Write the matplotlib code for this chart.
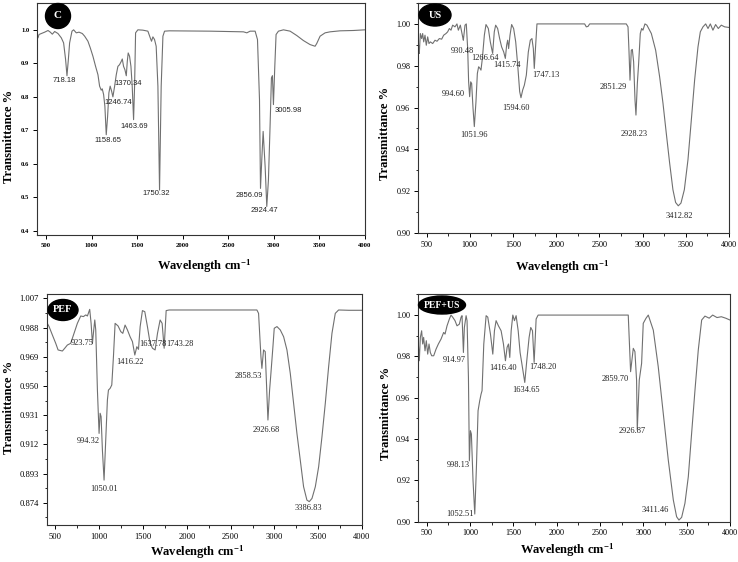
import matplotlib
matplotlib.use('Agg')
import matplotlib.pyplot as plt
from matplotlib.patches import Ellipse
from matplotlib.ticker import MultipleLocator

plt.rcParams['mathtext.fontset'] = 'custom'
plt.rcParams['mathtext.rm'] = 'Liberation Serif:bold'
plt.rcParams['mathtext.bf'] = 'Liberation Serif:bold'
plt.rcParams['mathtext.it'] = 'Liberation Serif:bold'
plt.rcParams['mathtext.default'] = 'bf'

# ---- panel C ----
wn_c = [400, 411, 422, 448, 484, 521, 546, 568, 594, 630, 667, 692, 714, 729, 744, 758, 784, 802,
        831, 861, 897, 923, 959, 985, 1014, 1043, 1069, 1087, 1105, 1116, 1131, 1145, 1160, 1175,
        1189, 1203, 1219, 1233, 1252, 1270, 1288, 1306, 1325, 1336, 1350, 1365, 1380, 1391, 1401,
        1416, 1431, 1445, 1460, 1471, 1482, 1507, 1562, 1617, 1643, 1657, 1672, 1690, 1708, 1727,
        1745, 1763, 1782, 1800, 1855, 2300, 2666, 2703, 2739, 2794, 2820, 2842, 2853, 2867, 2882,
        2904, 2922, 2940, 2958, 2973, 2984, 2995, 3010, 3024, 3050, 3105, 3178, 3251, 3324, 3397,
        3452, 3470, 3507, 3562, 3616, 3726, 3872, 4000]
t_c = [0.975, 0.976, 0.986, 0.989, 0.993, 0.998, 0.993, 0.987, 0.995, 0.989, 0.976, 0.961, 0.911,
       0.863, 0.911, 0.961, 0.996, 1.0, 0.991, 0.993, 0.989, 0.981, 0.966, 0.946, 0.921, 0.891,
       0.866, 0.832, 0.820, 0.824, 0.807, 0.772, 0.687, 0.742, 0.812, 0.832, 0.817, 0.800, 0.832,
       0.866, 0.891, 0.896, 0.906, 0.913, 0.891, 0.881, 0.863, 0.906, 0.931, 0.921, 0.891, 0.832,
       0.732, 0.832, 0.991, 1.0, 0.999, 0.996, 0.976, 0.966, 0.979, 0.971, 0.951, 0.832, 0.522,
       0.832, 0.981, 0.996, 0.997, 0.996, 0.994, 0.991, 0.996, 0.996, 0.971, 0.792, 0.527, 0.612,
       0.697, 0.592, 0.473, 0.552, 0.712, 0.856, 0.863, 0.777, 0.891, 0.986, 0.996, 1.0, 0.996,
       0.983, 0.968, 0.956, 0.951, 0.959, 0.981, 0.991, 0.994, 0.997, 0.998, 1.0]
lab_c = ['718.18', '1370.34', '1246.74', '1158.65', '1463.69', '1750.32', '2856.09', '2924.47', '3005.98']
lab_c_x = [701, 1405, 1295, 1178, 1471, 1709, 2735, 2900, 3157]
lab_c_y = [0.848, 0.840, 0.782, 0.669, 0.711, 0.512, 0.505, 0.460, 0.760]

# ---- panel US ----
wn_us = [400, 408, 415, 427, 442, 454, 466, 481, 496, 512, 527, 543, 570, 597, 620, 647, 674, 697,
         724, 743, 763, 782, 801, 828, 851, 867, 890, 917, 925, 944, 959, 975, 986, 998, 1010, 1021,
         1037, 1052, 1071, 1087, 1102, 1118, 1129, 1145, 1168, 1187, 1214, 1237, 1264, 1283, 1299,
         1322, 1345, 1368, 1392, 1411, 1426, 1438, 1449, 1465, 1484, 1507, 1531, 1554, 1577, 1592,
         1612, 1631, 1654, 1677, 1700, 1719, 1735, 1746, 1762, 1777, 1862, 2329, 2348, 2368, 2387,
         2811, 2831, 2842, 2854, 2869, 2881, 2896, 2912, 2923, 2939, 2954, 2973, 2989, 3004, 3027,
         3050, 3101, 3151, 3197, 3236, 3274, 3313, 3351, 3382, 3413, 3444, 3483, 3525, 3564, 3602,
         3641, 3668, 3699, 3730, 3757, 3784, 3814, 3845, 3876, 3911, 3949, 4000]
t_us = [0.9866, 0.9898, 0.9859, 0.9954, 0.993, 0.9954, 0.9914, 0.9946, 0.9898, 0.9938, 0.9906,
        0.9914, 0.9906, 0.9922, 0.9917, 0.993, 0.9927, 0.9946, 0.9954, 0.9962, 0.9978, 0.997,
        0.9994, 0.9986, 1.0, 0.997, 0.9994, 0.9938, 0.9922, 0.9994, 1.0, 0.9882, 0.9723, 0.9652,
        0.9723, 0.9715, 0.9596, 0.9509, 0.9628, 0.9763, 0.9795, 0.9787, 0.9779, 0.9835, 0.9946,
        0.9997, 0.9978, 0.9914, 0.9859, 0.9962, 0.9994, 0.9978, 0.993, 0.989, 0.9866, 0.9835,
        0.9898, 0.9922, 0.9882, 0.9946, 0.9997, 0.9978, 0.9914, 0.9803, 0.9676, 0.9647, 0.9684,
        0.9707, 0.9755, 0.9866, 0.9922, 0.993, 0.9882, 0.9787, 0.9898, 1.0, 1.0, 1.0, 0.9986,
        0.9988, 1.0, 1.0, 0.9986, 0.9874, 0.9731, 0.9874, 0.9878, 0.9819, 0.9636, 0.9564, 0.9715,
        0.9811, 0.9954, 0.9978, 0.997, 1.0, 0.9994, 0.9954, 0.9874, 0.9747, 0.962, 0.9477, 0.9334,
        0.9207, 0.9146, 0.913, 0.9143, 0.9207, 0.935, 0.9541, 0.9731, 0.989, 0.9962, 0.9986, 1.0,
        0.9978, 1.0, 0.997, 0.9997, 0.9978, 0.9994, 0.9986, 0.9983]
lab_us = ['930.48', '1266.64', '1415.74', '1747.13', '994.60', '1051.96', '1594.60', '2851.29', '2928.23', '3412.82']
lab_us_x = [911, 1171, 1430, 1880, 810, 1043, 1539, 2663, 2907, 3430]
lab_us_y = [0.9871, 0.9835, 0.9803, 0.9758, 0.9663, 0.9469, 0.960, 0.970, 0.9474, 0.9083]

# ---- panel PEF ----
wn_pef = [400, 427, 465, 503, 530, 579, 606, 636, 674, 712, 750, 789, 819, 846, 865, 891, 907, 922,
          937, 949, 960, 979, 998, 1010, 1021, 1036, 1055, 1074, 1093, 1105, 1124, 1143, 1162, 1181,
          1215, 1246, 1269, 1295, 1322, 1352, 1379, 1406, 1429, 1448, 1467, 1493, 1520, 1550, 1581,
          1608, 1638, 1665, 1695, 1718, 1741, 1764, 1798, 2800, 2819, 2846, 2857, 2876, 2895, 2926,
          2945, 2960, 2983, 2998, 3029, 3067, 3105, 3143, 3181, 3219, 3257, 3295, 3333, 3371, 3398,
          3429, 3467, 3505, 3543, 3581, 3619, 3657, 3695, 3733, 3850, 4000]
t_pef = [0.9914, 0.9886, 0.9831, 0.9777, 0.9734, 0.9727, 0.9745, 0.9766, 0.9777, 0.9842, 0.9907,
         0.9955, 0.9951, 0.9962, 0.9955, 0.9998, 0.9907, 0.9777, 0.9864, 0.9929, 0.9864, 0.9473,
         0.9191, 0.9322, 0.930, 0.9083, 0.8887, 0.9148, 0.9408, 0.9473, 0.9484, 0.9506, 0.969,
         0.9907, 0.989, 0.9853, 0.9842, 0.9896, 0.9864, 0.982, 0.9788, 0.9701, 0.9755, 0.9738,
         0.9886, 0.999, 0.9983, 0.9886, 0.9777, 0.9745, 0.9734, 0.9842, 0.9929, 0.9907, 0.9745,
         0.999, 0.9994, 0.9994, 0.9972, 0.969, 0.9614, 0.9734, 0.9723, 0.9278, 0.9473, 0.9582,
         0.9755, 0.9875, 0.9886, 0.9864, 0.982, 0.9734, 0.9582, 0.9387, 0.9191, 0.9018, 0.8844,
         0.8757, 0.8747, 0.8768, 0.8844, 0.8974, 0.917, 0.9387, 0.9625, 0.9842, 0.9972, 0.9994,
         0.9992, 0.9992]
lab_pef = ['923.75', '1416.22', '1637.78', '1743.28', '994.32', '1050.01', '2858.53', '2926.68', '3386.83']
lab_pef_x = [804, 1345, 1611, 1924, 876, 1055, 2697, 2907, 3390]
lab_pef_y = [0.9781, 0.9653, 0.977, 0.977, 0.9144, 0.8829, 0.9567, 0.9213, 0.8703]

# ---- panel PEF+US ----
wn_pu = [400, 404, 415, 427, 442, 454, 465, 481, 496, 512, 527, 542, 558, 581, 608, 635, 666, 696,
         712, 735, 762, 781, 800, 827, 850, 877, 897, 908, 924, 935, 955, 966, 982, 993, 1005, 1016,
         1035, 1055, 1074, 1093, 1112, 1128, 1139, 1159, 1186, 1205, 1236, 1263, 1282, 1301, 1328,
         1359, 1386, 1409, 1428, 1444, 1459, 1475, 1494, 1513, 1532, 1556, 1578, 1605, 1632, 1655,
         1682, 1701, 1721, 1740, 1763, 1786, 2826, 2853, 2884, 2903, 2922, 2930, 2953, 2980, 2999,
         3030, 3057, 3115, 3172, 3230, 3288, 3346, 3384, 3411, 3442, 3480, 3519, 3557, 3596, 3634,
         3673, 3711, 3760, 3800, 3850, 3900, 3950, 4000]
t_pu = [0.986, 0.986, 0.9779, 0.9892, 0.9924, 0.986, 0.9892, 0.9827, 0.9876, 0.9811, 0.986, 0.9819,
        0.9803, 0.9803, 0.9835, 0.986, 0.9884, 0.9916, 0.9908, 0.9948, 0.9981, 1.0, 0.999, 0.9973,
        0.9948, 0.9956, 0.999, 0.9997, 0.9819, 0.994, 0.9997, 0.9973, 0.9698, 0.9295, 0.944, 0.9424,
        0.9198, 0.9037, 0.9263, 0.9537, 0.9585, 0.9618, 0.9634, 0.986, 0.9997, 0.999, 0.9908,
        0.9811, 0.9924, 0.9973, 0.9948, 0.9924, 0.986, 0.9779, 0.9844, 0.986, 0.9795, 0.9924, 1.0,
        0.9973, 0.9997, 0.9924, 0.9819, 0.9747, 0.9674, 0.9779, 0.9892, 0.994, 0.9924, 0.9771,
        0.9981, 1.0, 1.0, 0.9726, 0.9839, 0.9823, 0.9685, 0.9444, 0.9685, 0.9766, 0.996, 0.9984, 1.0,
        0.9927, 0.975, 0.9524, 0.9298, 0.9105, 0.9024, 0.9008, 0.9021, 0.9089, 0.9218, 0.9427,
        0.9637, 0.9831, 0.9976, 0.9995, 0.9985, 1.0, 0.9988, 0.9992, 0.9985, 0.9976]
lab_pu = ['914.97', '1416.40', '1748.20', '1634.65', '998.13', '1052.51', '2859.70', '2926.87', '3411.46']
lab_pu_x = [824, 1382, 1836, 1651, 862, 881, 2672, 2872, 3134]
lab_pu_y = [0.9782, 0.9742, 0.9747, 0.9637, 0.9274, 0.9037, 0.9689, 0.9439, 0.9056]

W, H = 738, 562
fig = plt.figure(figsize=(W / 100, H / 100), dpi=100)
serif = 'Liberation Serif'
sans = 'Liberation Sans'
line_col = '#707070'


def add_ax(left, top, right, bottom):
    return fig.add_axes([left / W, 1 - bottom / H, (right - left) / W, (bottom - top) / H])


def style(ax, bold, size):
    ax.set_xlim(400, 4000)
    ax.set_xticks([500, 1000, 1500, 2000, 2500, 3000, 3500, 4000])
    ax.tick_params(direction='out', length=3, width=0.7, pad=2.5, labelsize=size,
                   top=False, right=False)
    ax.tick_params(which='minor', direction='out', length=1.8, width=0.6)
    for lab in ax.get_xticklabels() + ax.get_yticklabels():
        lab.set_fontfamily(serif)
        if bold:
            lab.set_fontweight('bold')
    for s in ax.spines.values():
        s.set_linewidth(0.8)
        s.set_color('#333333')


def badge(cx, cy, w, h, text, size):
    fig.add_artist(Ellipse((cx / W, 1 - cy / H), w / W, h / H, transform=fig.transFigure,
                           facecolor='black', edgecolor='black', zorder=10))
    fig.text(cx / W, 1 - cy / H, text, color='white', fontsize=size, fontweight='bold',
             fontfamily=serif, ha='center', va='center', zorder=11)


def labels(xc, yl_x, yl_y, xl_y):
    fig.text(yl_x / W, 1 - yl_y / H, 'Transmittance %', rotation=90, ha='center', va='center',
             fontsize=9, fontweight='bold', fontfamily=serif)
    fig.text(xc / W, 1 - xl_y / H, 'Wavelength cm$^{-1}$', ha='center', va='center',
             fontsize=9, fontweight='bold', fontfamily=serif)


# C
ax1 = add_ax(37, 3, 365, 235)
ax1.plot(wn_c, t_c, color=line_col, lw=0.8)
ax1.set_ylim(0.388, 1.08)
ax1.set_yticks([0.4, 0.5, 0.6, 0.7, 0.8, 0.9, 1.0])
ax1.set_yticklabels(['0.4', '0.5', '0.6', '0.7', '0.8', '0.9', '1.0'])
style(ax1, True, 4.8)
for s, x, y in zip(lab_c, lab_c_x, lab_c_y):
    ax1.text(x, y, s, fontsize=5.5, fontfamily=sans, ha='center', va='center', color='#222222')
badge(58, 16, 25, 25, 'C', 8)
labels(204, 9, 136, 266)

# US
ax2 = add_ax(418, 3, 729, 233)
ax2.plot(wn_us, t_us, color=line_col, lw=0.8)
ax2.set_ylim(0.90, 1.01)
ax2.set_yticks([0.90, 0.92, 0.94, 0.96, 0.98, 1.00])
ax2.set_yticklabels(['0.90', '0.92', '0.94', '0.96', '0.98', '1.00'])
ax2.xaxis.set_minor_locator(MultipleLocator(250))
ax2.yaxis.set_minor_locator(MultipleLocator(0.01))
style(ax2, False, 5.9)
for s, x, y in zip(lab_us, lab_us_x, lab_us_y):
    ax2.text(x, y, s, fontsize=6, fontfamily=serif, ha='center', va='center', color='#222222')
badge(435, 15, 32, 22, 'US', 7.5)
labels(562, 385, 133, 267)

# PEF
ax3 = add_ax(46.7, 294, 362, 525)
ax3.plot(wn_pef, t_pef, color=line_col, lw=0.8)
ax3.set_ylim(0.8595, 1.0098)
pef_ticks = [0.874, 0.893, 0.912, 0.931, 0.950, 0.969, 0.988, 1.007]
ax3.set_yticks(pef_ticks)
ax3.set_yticklabels(['%.3f' % v for v in pef_ticks])
ax3.xaxis.set_minor_locator(MultipleLocator(250))
ax3.yaxis.set_minor_locator(MultipleLocator(0.0095))
style(ax3, False, 6.1)
for s, x, y in zip(lab_pef, lab_pef_x, lab_pef_y):
    ax3.text(x, y, s, fontsize=6, fontfamily=serif, ha='center', va='center', color='#222222')
badge(63, 310, 30, 21, 'PEF', 7.5)
labels(197, 9, 407, 552)

# PEF+US
ax4 = add_ax(418, 294, 730, 521.7)
ax4.plot(wn_pu, t_pu, color=line_col, lw=0.8)
ax4.set_ylim(0.90, 1.0102)
ax4.set_yticks([0.90, 0.92, 0.94, 0.96, 0.98, 1.00])
ax4.set_yticklabels(['0.90', '0.92', '0.94', '0.96', '0.98', '1.00'])
ax4.xaxis.set_minor_locator(MultipleLocator(250))
ax4.yaxis.set_minor_locator(MultipleLocator(0.01))
style(ax4, False, 5.9)
for s, x, y in zip(lab_pu, lab_pu_x, lab_pu_y):
    ax4.text(x, y, s, fontsize=6, fontfamily=serif, ha='center', va='center', color='#222222')
badge(442, 305, 47, 18, 'PEF+US', 7)
labels(567, 386, 413, 550)

fig.savefig('out.png', dpi=100)
